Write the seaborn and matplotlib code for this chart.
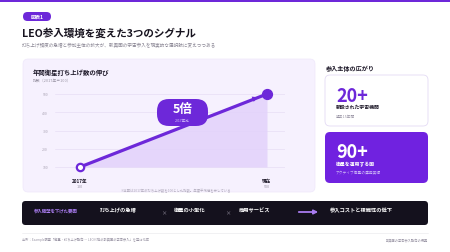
import numpy as np
import pandas as pd
import matplotlib
matplotlib.use("Agg")
import matplotlib.pyplot as plt
from matplotlib.patches import FancyBboxPatch, Rectangle
import seaborn as sns

sns.set_theme(style="white")
plt.rcParams['font.family'] = ['Noto Sans CJK JP', 'DejaVu Sans']

# data
periods = ["2017年", "現在"]
launch_index = [100, 500]
y_ticks = [100, 200, 300, 400, 500]
stat_values = ["20+", "90+"]
stat_labels = ["新設された宇宙機関", "衛星を運用する国"]
stat_notes = ["過去15年間", "アクティブ衛星の運用実績"]
factors = ["打ち上げの急増", "衛星の小型化", "商用サービス"]

PURPLE = "#6d28d9"
PANEL = "#f6f1fe"
DARK = "#14111d"

fig = plt.figure(figsize=(4.5, 2.53), dpi=100)
fig.patch.set_facecolor("white")

# background layer in pixel coordinates
bg = fig.add_axes([0, 0, 1, 1], zorder=0)
bg.set_xlim(0, 450)
bg.set_ylim(253, 0)
bg.axis("off")

bg.add_patch(Rectangle((0, 0), 450, 3, color=PURPLE, lw=0))
bg.add_patch(FancyBboxPatch((23, 13), 28, 9, boxstyle="round,pad=0,rounding_size=4.5",
                            fc=PURPLE, ec="none"))
bg.text(37, 17.6, "図表1", color="white", fontsize=3.6, weight="bold", ha="center", va="center")
bg.text(22, 33, "LEO参入環境を変えた3つのシグナル", fontsize=7.6, weight="bold",
        color="#17131f", va="center")
bg.text(22, 45, "打ち上げ頻度の急増と参加主体の拡大が、新興国の宇宙参入を現実的な選択肢に変えつつある",
        fontsize=3.3, color="#8a8694", va="center")

# chart panel
bg.add_patch(FancyBboxPatch((23, 60), 292, 133, boxstyle="round,pad=0,rounding_size=5",
                            fc=PANEL, ec="#efe8fb", lw=0.5))
bg.text(33, 72, "年間衛星打ち上げ数の伸び", fontsize=4.6, weight="bold", color="#1d1828", va="center")
bg.text(33, 80.5, "指数（2017年＝100）", fontsize=2.8, color="#9a95a5", va="center")
bg.text(176, 191, "※本図は2017年の打ち上げ数を100とした指数。年度平均値を示している", fontsize=2.4,
        color="#b0aabb", ha="center", va="center")

# right stat cards
bg.text(326, 68, "参入主体の広がり", fontsize=4.4, weight="bold", color="#1d1828", va="center")
bg.add_patch(FancyBboxPatch((325, 76), 103, 51, boxstyle="round,pad=0,rounding_size=5",
                            fc="white", ec="#e4dbf5", lw=0.6))
bg.add_patch(FancyBboxPatch((325, 133), 103, 51, boxstyle="round,pad=0,rounding_size=5",
                            fc="#7022e0", ec="none"))
card_tops = [76, 133]
val_colors = [PURPLE, "white"]
lab_colors = ["#1d1828", "white"]
note_colors = ["#9a95a5", "#c9b3f5"]
for i in range(2):
    t = card_tops[i]
    bg.text(336, t + 20, stat_values[i], fontsize=13, weight="bold", color=val_colors[i], va="center")
    bg.text(336, t + 31.5, stat_labels[i], fontsize=3.5, weight="bold", color=lab_colors[i], va="center")
    bg.text(336, t + 40.5, stat_notes[i], fontsize=2.7, color=note_colors[i], va="center")

# bottom dark bar
bg.add_patch(FancyBboxPatch((22, 202), 406, 24, boxstyle="round,pad=0,rounding_size=3.5",
                            fc=DARK, ec="none"))
bg.text(34, 211, "参入障壁を下げた要因", fontsize=3.2, color="#a97cf0", va="center", weight="bold")
fx = [100, 174, 239]
for i, f in enumerate(factors):
    bg.text(fx[i], 210.5, f, fontsize=3.8, color="white", weight="bold", va="center")
bg.text(164, 213.5, "×", fontsize=3.8, color="#9a95a5", ha="center", va="center")
bg.text(228, 213.5, "×", fontsize=3.8, color="#9a95a5", ha="center", va="center")
bg.annotate("", xy=(321, 213), xytext=(296, 213),
            arrowprops=dict(arrowstyle="-|>", color="#a97cf0", lw=1.3, mutation_scale=6))
bg.text(330, 210.5, "参入コストと複雑性の低下", fontsize=3.8, color="white", weight="bold", va="center")

# footer
bg.plot([22, 428], [234, 234], color="#ecebef", lw=0.5)
bg.text(22, 240, "出所：Example調査「衛星・打ち上げ動向 — LEO以降の新興国の宇宙参入」を基に作成",
        fontsize=2.3, color="#9a95a5", va="center")
bg.text(428, 240, "新興国の宇宙参入動向の概要", fontsize=2.3, color="#9a95a5", va="center", ha="right")

# line chart
ax = fig.add_axes([55 / 450, 1 - 176 / 253, 230 / 450, 88 / 253], zorder=1)
ax.patch.set_alpha(0)
df = pd.DataFrame({"pos": [0, 1], "period": periods, "index": launch_index})

ax.fill_between(df["pos"], df["index"], 100, color="#e2d2fb", alpha=0.85, lw=0)
sns.lineplot(data=df, x="pos", y="index", ax=ax, color=PURPLE, linewidth=2.3)
ax.scatter(df["pos"][:1], df["index"][:1], s=28, facecolor="white", edgecolor=PURPLE,
           linewidth=1.6, zorder=5)
ax.scatter(df["pos"][1:], df["index"][1:], s=50, color=PURPLE, zorder=5)
ax.annotate("", xy=(0.965, 488), xytext=(0.9, 462),
            arrowprops=dict(arrowstyle="-|>", color=PURPLE, lw=0, mutation_scale=10), zorder=6)

ax.set_xlim(-25 / 187, 1 + 18 / 187)
ax.set_ylim(100 - 8 / 0.1825, 500 + 7 / 0.1825)
ax.set_yticks(y_ticks)
ax.set_yticklabels([str(v) for v in y_ticks], fontsize=2.5, color="#aaa4b4")
ax.set_xticks([])
ax.tick_params(axis="y", length=0, pad=5)
ax.grid(axis="y", color="#e9e1f6", lw=0.6)
ax.set_xlabel("")
ax.set_ylabel("")
for s in ax.spines.values():
    s.set_visible(False)

trans = ax.get_xaxis_transform()
for p, lab, v in zip(df["pos"], periods, launch_index):
    ax.text(p, -0.06, lab, transform=trans, fontsize=3.3, weight="bold", color="#1d1828",
            ha="center", va="center", clip_on=False)
    ax.text(p, -0.13, str(v), transform=trans, fontsize=2.7, color="#9a95a5",
            ha="center", va="center", clip_on=False)

# callout bubble on top
fg = fig.add_axes([0, 0, 1, 1], zorder=2)
fg.set_xlim(0, 450)
fg.set_ylim(253, 0)
fg.axis("off")
fg.add_patch(FancyBboxPatch((157, 100), 51, 27, boxstyle="round,pad=0,rounding_size=12",
                            fc=PURPLE, ec="none"))
fg.text(182.5, 110, "5倍", fontsize=9, weight="bold", color="white", ha="center", va="center")
fg.text(182.5, 121, "2017年比", fontsize=2.5, color="#d9c8fb", ha="center", va="center")

fig.savefig("out.png", dpi=100, facecolor="white")
